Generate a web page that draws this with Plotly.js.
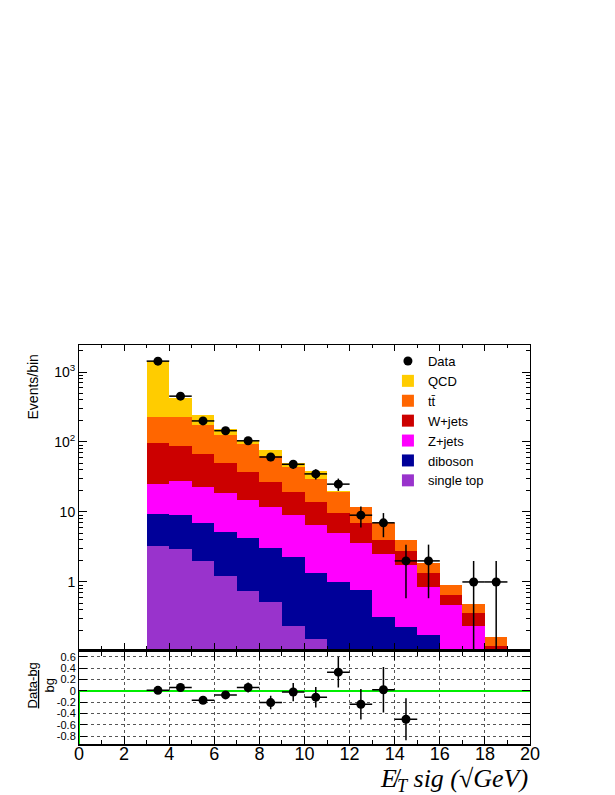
<!DOCTYPE html>
<html>
<head>
<meta charset="utf-8">
<script src="https://cdn.plot.ly/plotly-3.0.1.min.js"></script>
<style>html,body{margin:0;padding:0;background:#fff;}#plot{width:615px;height:795px;}</style>
</head>
<body>
<div id="plot"></div>
<script>
// ---- data ----
const binCenters = [3.5,4.5,5.5,6.5,7.5,8.5,9.5,10.5,11.5,12.5,13.5,14.5,15.5,16.5,17.5,18.5];
const singleTop = [3.27,2.99,2.02,1.22,0.75,0.52,0.237,0.155,0.08,0.05,0.03,0.02,0.01,0,0,0];
const diboson   = [6.09,6.07,4.87,4.01,3.55,2.51,2.01,1.19,0.93,0.71,0.29,0.21,0.165,0.04,0.02,0.01];
const zjets     = [16.04,18.44,15.91,13.27,10.7,8.57,6.95,5.26,3.95,2.84,2.23,1.52,0.675,0.43,0.218,0.08];
const wjets     = [70.4,60.2,43.9,31.5,22.3,15.3,10.3,7.2,4.61,3.35,1.45,1.05,0.48,0.18,0.127,0.03];
const ttbar     = [134.2,137.3,106.3,76,55.4,36.1,24.9,15.5,9.93,4.95,3.05,1.15,0.52,0.25,0.12,0.042];
const qcd       = [1219,205,70,27,10.3,13.9,6.1,9.6,0.3,0,0,0,0,0,0,0];
const dataCounts= [1430,452,200,145,104,61,48,35,25,9,7,2,2,null,1,1];

const ratioX    = [3.5,4.5,5.5,6.5,7.5,8.5,9.5,10.5,11.5,12.5,13.5,14.5];
const ratioY    = [0.01,0.06,-0.165,-0.07,0.06,-0.205,-0.02,-0.11,0.33,-0.235,0.02,-0.5];
const ratioErr  = [0.02,0.04,0.06,0.07,0.09,0.12,0.16,0.18,0.27,0.27,0.4,0.37];

const yTickVals = [1,10,100,1000];
const yTickText = ['1','10','10<sup>2</sup>','10<sup>3</sup>'];
const rTickVals = [-0.8,-0.6,-0.4,-0.2,0,0.2,0.4,0.6];
const rTickText = ['-0.8','-0.6','-0.4','-0.2','0','0.2','0.4','0.6'];

const names  = ['single top','diboson','Z+jets','W+jets','t\u0074\u0304','QCD'];
const series = [singleTop, diboson, zjets, wjets, ttbar, qcd];
const colors = ['#9933cc','#000099','#ff00ff','#cc0000','#ff6600','#ffcc00'];

const minorLog = [];
[0.1,1,10,100,1000].forEach(d => { for (let k=2;k<=9;k++) minorLog.push(k*d); });

const FONT = 'Liberation Sans, Arial, Helvetica, sans-serif';
const traces = [];
series.forEach((s,i) => {
  traces.push({
    type:'bar', x: binCenters, y: s, name: names[i], width: 1,
    marker:{color: colors[i], line:{width:0}},
    xaxis:'x', yaxis:'y', hoverinfo:'skip'
  });
});
traces.push({
  type:'scatter', mode:'markers', name:'Data', x: binCenters, y: dataCounts,
  marker:{color:'#000', size:9},
  error_y:{type:'data', array: dataCounts.map(v => v==null?null:Math.sqrt(v)), color:'#000', thickness:1.5, width:0},
  error_x:{type:'data', array: binCenters.map(()=>0.5), color:'#000', thickness:1.5, width:0},
  xaxis:'x', yaxis:'y'
});
traces.push({
  type:'scatter', mode:'markers', showlegend:false, x: ratioX, y: ratioY,
  marker:{color:'#000', size:9},
  error_y:{type:'data', array: ratioErr, color:'#000', thickness:1.5, width:0},
  error_x:{type:'data', array: ratioX.map(()=>0.5), color:'#000', thickness:1.5, width:0},
  xaxis:'x2', yaxis:'y2'
});

const layout = {
  width:615, height:795,
  paper_bgcolor:'#fff', plot_bgcolor:'#fff',
  margin:{l:79, r:85, t:345, b:51},
  barmode:'stack', bargap:0,
  font:{family:FONT, color:'#000'},
  showlegend:true,
  legend:{x:0.685, y:0.9975, xanchor:'left', yanchor:'top', traceorder:'reversed',
          font:{size:13, family:FONT}, bgcolor:'rgba(0,0,0,0)', tracegroupgap:0},
  xaxis:{range:[0,20], domain:[0,1], anchor:'y', showticklabels:false,
         ticks:'inside', dtick:2, tick0:0, ticklen:6, tickcolor:'#000',
         minor:{dtick:1, ticklen:3, ticks:'inside', tickcolor:'#000', showgrid:false},
         showline:true, mirror:'ticks', linecolor:'#000', linewidth:1, showgrid:false, zeroline:false},
  yaxis:{type:'log', range:[Math.log10(0.11), 3.386], domain:[0.238,1], anchor:'x',
         tickmode:'array', tickvals:yTickVals, ticktext:yTickText,
         ticks:'inside', ticklen:8, tickcolor:'#000', tickfont:{size:14},
         minor:{tickmode:'array', tickvals:minorLog, ticklen:4, ticks:'inside', tickcolor:'#000', showgrid:false},
         showline:true, mirror:'ticks', linecolor:'#000', linewidth:1, showgrid:false, zeroline:false},
  xaxis2:{range:[0,20], domain:[0,1], anchor:'y2',
          ticks:'inside', dtick:2, tick0:0, ticklen:8, tickcolor:'#000', tickfont:{size:18},
          ticklabelstandoff:-8,
          minor:{dtick:1, ticklen:4, ticks:'inside', tickcolor:'#000', showgrid:false},
          showgrid:true, gridcolor:'#555', griddash:'dot', gridwidth:1,
          showline:true, mirror:'ticks', linecolor:'#000', linewidth:2, zeroline:false},
  yaxis2:{range:[-0.935,0.68], domain:[0,0.2298], anchor:'x2',
          tickmode:'array', tickvals:rTickVals, ticktext:rTickText,
          ticks:'inside', ticklen:8, tickcolor:'#000', tickfont:{size:11},
          showgrid:true, gridcolor:'#555', griddash:'dot', gridwidth:1,
          zeroline:true, zerolinecolor:'#00ee00', zerolinewidth:2,
          showline:true, mirror:'ticks', linecolor:'#000', linewidth:1},
  shapes:[
    {type:'line', xref:'x2', yref:'y2', x0:0, x1:0, y0:-0.935, y1:0, line:{color:'#00ee00', width:2}}
  ],
  annotations:[
    {text:'Events/bin', xref:'paper', yref:'paper', x:-0.102, y:0.9825, xanchor:'center', yanchor:'top',
     textangle:-90, showarrow:false, font:{size:14, family:FONT}},
    {text:'<u>Data-bg</u><br>bg', xref:'paper', yref:'paper', x:-0.085, y:0.146, xanchor:'center', yanchor:'middle',
     textangle:-90, showarrow:false, font:{size:13, family:FONT}},
    {text:'<i>E\u0338<sub>T</sub> sig (\u221AGeV)</i>', xref:'paper', yref:'paper', x:1, y:-0.045, xanchor:'right', yanchor:'top',
     showarrow:false, font:{size:26, family:'Liberation Serif, DejaVu Serif, serif'}}
  ]
};

Plotly.newPlot('plot', traces, layout, {staticPlot:true, displayModeBar:false});
</script>
</body>
</html>
